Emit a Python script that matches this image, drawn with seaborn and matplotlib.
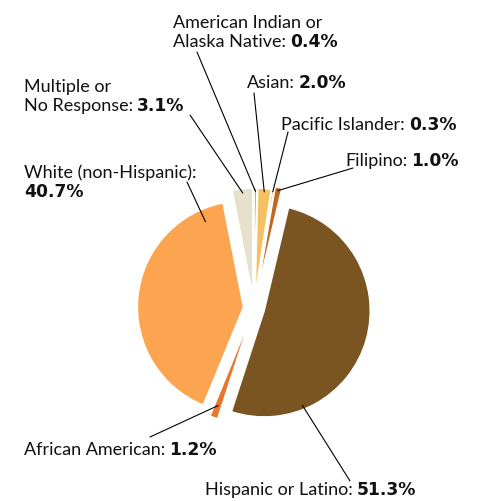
import matplotlib
matplotlib.use('Agg')
import matplotlib.pyplot as plt
import seaborn as sns
import numpy as np

# student ethnicity shares (counterclockwise from the bottom)
groups = ['Hispanic or Latino', 'Filipino', 'Pacific Islander', 'Asian',
          'American Indian or\nAlaska Native', 'Multiple or\nNo Response',
          'White (non-Hispanic)', 'African American']
shares = [51.3, 1.0, 0.3, 2.0, 0.4, 3.1, 40.7, 1.2]
colors = ['#7a5522', '#c0661f', '#e8b565', '#f5c060',
          '#dca24e', '#e6e1cc', '#fda450', '#e8762d']
explode = [0.1, 0.16, 0.14, 0.13, 0.13, 0.13, 0.1, 0.1]

sns.set_style('white')
plt.rcParams['font.family'] = ['Lato', 'DejaVu Sans']

W, H = 478, 501
cx, cy, R = 254, 308, 106   # pie centre and radius in pixels

fig = plt.figure(figsize=(W / 100, H / 100), dpi=100)
ax = fig.add_axes([0, 0, 1, 1])

wedges, _ = ax.pie(shares, colors=colors, explode=explode, startangle=-108,
                   counterclock=True,
                   wedgeprops=dict(edgecolor='white', linewidth=1.0))
ax.set_xlim(-cx / R, (W - cx) / R)
ax.set_ylim(-(H - cy) / R, cy / R)
ax.set_aspect('equal')
ax.axis('off')

def to_data(px, py):
    return (px - cx) / R, (cy - py) / R

# label layout: left x, first baseline (pixels from top), pct on new line?, leader end
text_pos = [(205, 495), (345, 166), (281, 130), (247, 88),
            (173, 28), (24, 92), (24, 178), (24, 455)]
pct_newline = [False, False, False, False, False, False, True, False]
line_end = [(350, 481), (353, 168), (288, 132), (254, 93),
            (197, 52), (190, 115), (187, 182), (150, 437)]
anchor_ang = [-68, None, None, None, None, None, 114, None]
anchor_frac = [0.96, 0.97, 0.97, 0.97, 0.97, 0.96, 0.88, 0.88]

fs = 13
renderer = fig.canvas.get_renderer()
bold = dict(fontsize=12.3, fontweight='bold', family=['DejaVu Sans'],
            ha='left', va='baseline', color='#111111')

for i, w in enumerate(wedges):
    ang = anchor_ang[i]
    if ang is None:
        ang = (w.theta1 + w.theta2) / 2
    a = np.deg2rad(ang)
    x0 = w.center[0] + anchor_frac[i] * w.r * np.cos(a)
    y0 = w.center[1] + anchor_frac[i] * w.r * np.sin(a)
    x1, y1 = to_data(*line_end[i])
    ax.plot([x0, x1], [y0, y1], color='black', lw=0.8)

    px, py = text_pos[i]
    lines = groups[i].split('\n')
    lines[-1] = lines[-1] + ':'
    pct = f'{shares[i]:.1f}%'
    t = None
    for k, line in enumerate(lines):
        t = fig.text(px / W, 1 - (py + 19 * k) / H, line, fontsize=fs,
                     ha='left', va='baseline', color='#111111')
    if pct_newline[i]:
        fig.text(px / W, 1 - (py + 19 * len(lines)) / H, pct, **bold)
    else:
        bb = t.get_window_extent(renderer)
        fig.text((bb.x1 + 4) / W, 1 - (py + 19 * (len(lines) - 1)) / H, pct,
                 **bold)

fig.savefig('out.png', dpi=100)
